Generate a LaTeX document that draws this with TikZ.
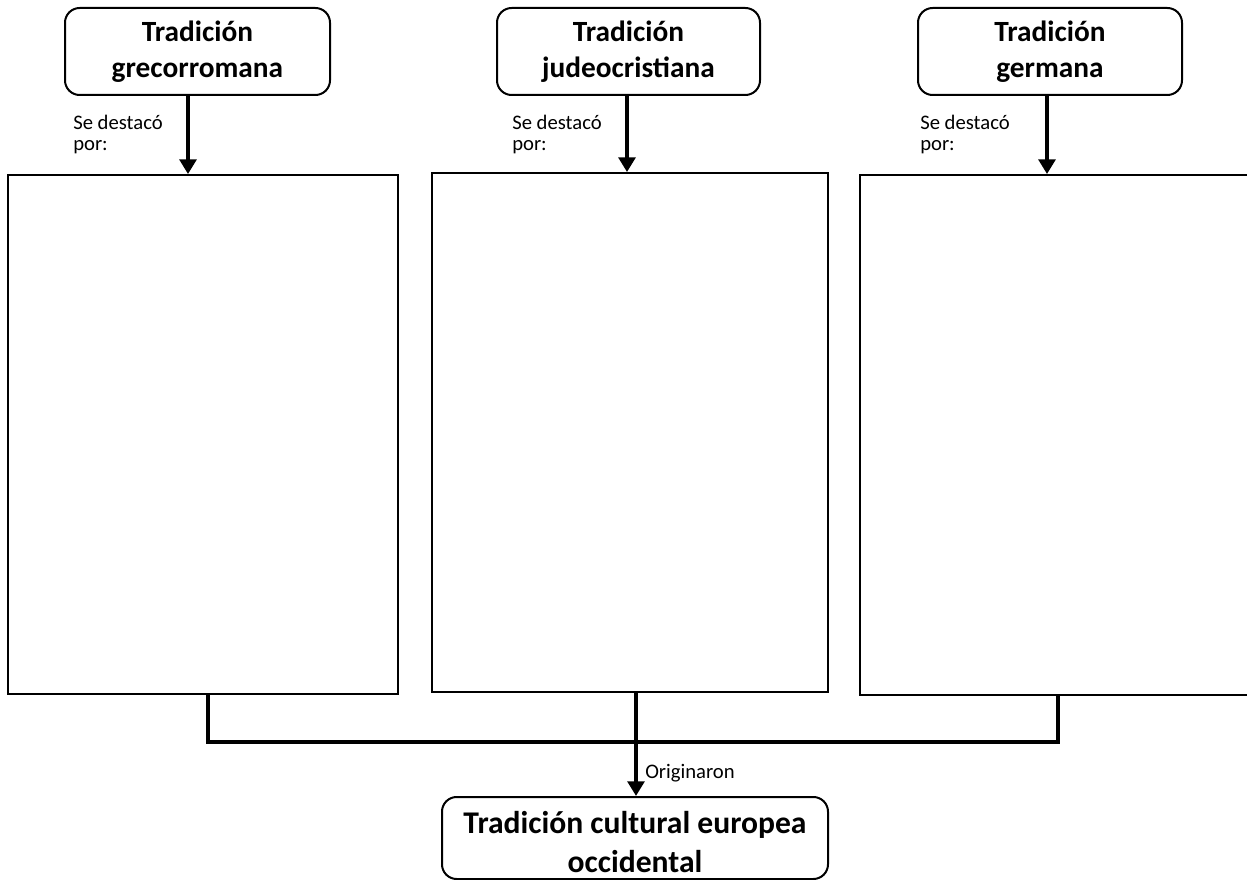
\documentclass[tikz,border=0pt]{standalone}
\usepackage{fontspec}
\setmainfont{Carlito}
\usetikzlibrary{arrows.meta,calc}
\tikzset{
  titlebox/.style={draw, line width=1.5pt, rounded corners=11pt, align=center, inner sep=0pt,
    font=\fontsize{22}{27}\selectfont\bfseries},
  bigbox/.style={draw, line width=1.4pt, inner sep=0pt},
  conn/.style={line width=3pt},
  arr/.style={line width=3pt, -{Triangle[width=12.5pt,length=11pt]}},
  lbl/.style={font=\fontsize{15.5}{16}\selectfont, align=left, inner sep=0pt, anchor=north west}
}
\begin{document}
\begin{tikzpicture}[x=0.75pt,y=-0.75pt]
\useasboundingbox (0,0) rectangle (1247,880);
\clip (0,0) rectangle (1247,880);
\fill[white] (0,0) rectangle (1247,880);
% title boxes
\node[titlebox, minimum width=265*0.75pt, minimum height=87*0.75pt] (t1) at (197.5,51.5) {Tradición\\grecorromana};
\node[titlebox, minimum width=263*0.75pt, minimum height=87*0.75pt] (t2) at (628.5,51.5) {Tradición\\judeocristiana};
\node[titlebox, minimum width=264*0.75pt, minimum height=87*0.75pt] (t3) at (1050,51.5) {Tradición\\germana};
% big boxes
\node[bigbox, minimum width=390*0.75pt, minimum height=519*0.75pt] (b1) at (203,434.5) {};
\node[bigbox, minimum width=396*0.75pt, minimum height=519*0.75pt] (b2) at (630,432.5) {};
\node[bigbox, minimum width=405*0.75pt, minimum height=520*0.75pt] (b3) at (1062.5,435) {};
% bottom box
\node[titlebox, minimum width=386*0.75pt, minimum height=82*0.75pt] (bt) at (635,838) {};
\node[align=center, inner sep=0pt, font=\fontsize{23.7}{29}\selectfont\bfseries] (btx) at (635,842) {Tradición cultural europea\\occidental};
% connector x positions
\coordinate (c1) at (188,0);
\coordinate (c2) at (627,0);
\coordinate (c3) at (1047,0);
\coordinate (s1) at (208,0);
\coordinate (s3) at (1058,0);
\coordinate (j) at (636,742);
% labels
\node[lbl] (l1) at (73,115) {Se destacó\\por:};
\node[lbl] (l2) at (512,115) {Se destacó\\por:};
\node[lbl] (l3) at (920,115) {Se destacó\\por:};
% arrows
\draw[arr] (t1.south -| c1) -- (b1.north -| c1);
\draw[arr] (t2.south -| c2) -- (b2.north -| c2);
\draw[arr] (t3.south -| c3) -- (b3.north -| c3);
\draw[conn] (b1.south -| s1) |- (j) -| (b3.south -| s3);
\draw[arr] (b2.south -| j) -- (bt.north -| j);
\node[anchor=base west, inner sep=0pt, font=\fontsize{15.5}{16}\selectfont] (og) at (645,778) {Originaron};
\end{tikzpicture}
\end{document}
